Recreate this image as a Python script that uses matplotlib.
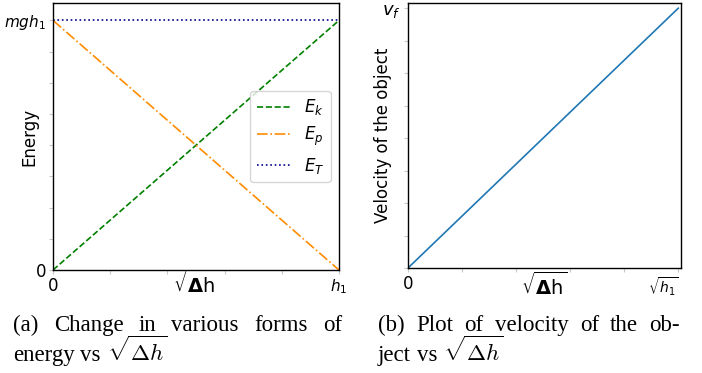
import numpy as np
import matplotlib.pyplot as plt
from matplotlib.ticker import FixedLocator, FixedFormatter

# normalised sqrt(dh) axis and energies (fractions of mgh1)
x_pts = [0.0, 1.0]
ek = [0.0, 1.0]
ep = [1.0, 0.0]
et = [1.0, 1.0]
vel = [0.0, 1.0]

x_ticks = [0.0, 0.2, 0.4, 0.6, 0.8, 1.0]
y_ticks = [i / 8 for i in range(9)]

fig = plt.figure(figsize=(7.02, 3.73), dpi=100)
ax1 = fig.add_axes([0.0755, 0.2761, 0.4074, 0.716])
ax2 = fig.add_axes([0.5812, 0.2815, 0.3889, 0.7105])

tick_kw = dict(direction='out', length=3, width=0.8, color='#c8c8c8',
               labelcolor='black', labelsize=12, pad=2)
xlab = r'$\sqrt{\mathbf{\Delta}\mathrm{h}}$'

# (a) energy
ax1.plot(x_pts, ek, '--', color='green', lw=1.2, label='$E_k$')
ax1.plot(x_pts, ep, '-.', color='darkorange', lw=1.2, label='$E_p$')
ax1.plot(x_pts, et, ':', color='darkblue', lw=1.2, label='$E_T$')
ax1.set_xlim(0, 1)
ax1.set_ylim(0, 1.07)
ax1.xaxis.set_major_locator(FixedLocator(x_ticks))
ax1.xaxis.set_major_formatter(FixedFormatter(['0', '', '', '', '', '$h_1$']))
ax1.yaxis.set_major_locator(FixedLocator(y_ticks))
ax1.yaxis.set_major_formatter(FixedFormatter(['0'] + [''] * 7 + ['$mgh_1$']))
ax1.tick_params(**tick_kw)
ax1.get_xticklabels()[-1].set_fontsize(11)
ax1.get_yticklabels()[-1].set_fontsize(11)
ax1.set_ylabel('Energy', fontsize=12)
ax1.yaxis.set_label_coords(-0.052, 0.5)
ax1.set_xlabel(xlab, fontsize=14, labelpad=-19)
ax1.legend(loc='center right', bbox_to_anchor=(1.0, 0.5), fontsize=12,
           handlelength=2.0, labelspacing=0.45, borderpad=0.4,
           handletextpad=0.8)

# (b) velocity
ax2.plot(x_pts, vel, '-', color='#1f77b4', lw=1.2)
ax2.set_xlim(0, 1.01)
ax2.set_ylim(0, 1.02)
ax2.xaxis.set_major_locator(FixedLocator(x_ticks))
ax2.xaxis.set_major_formatter(FixedFormatter(['0', '', '', '', '', r'$\sqrt{h_1}$']))
ax2.yaxis.set_major_locator(FixedLocator(y_ticks))
ax2.yaxis.set_major_formatter(FixedFormatter([''] * 8 + ['$v_f$']))
ax2.tick_params(**tick_kw)
ax2.get_xticklabels()[-1].set_fontsize(10)
ax2.get_xticklabels()[-1].set_horizontalalignment('right')
ax2.get_yticklabels()[-1].set_fontsize(13)
ax2.set_ylabel('Velocity of the object', fontsize=12)
ax2.yaxis.set_label_coords(-0.059, 0.5)
ax2.set_xlabel(xlab, fontsize=14, labelpad=-19)

for ax in (ax1, ax2):
    for s in ax.spines.values():
        s.set_linewidth(1.0)

# captions (justified first line)
cap_kw = dict(fontsize=16.5, family='Liberation Serif', va='baseline',
              math_fontfamily='cm')
W, H = 702, 373


def place(words, x0, ybase, x1=None):
    fig.canvas.draw()
    r = fig.canvas.get_renderer()
    texts = [fig.text(0, 1 - ybase / H, w, **cap_kw) for w in words]
    widths = [t.get_window_extent(r).width for t in texts]
    if x1 is None:
        gap = fig.text(0, 0, 'a a', **cap_kw).get_window_extent(r).width \
            - 2 * fig.text(0, 0, 'a', **cap_kw).get_window_extent(r).width
        for t in fig.texts[-2:]:
            t.remove()
    else:
        gap = (x1 - x0 - sum(widths)) / (len(words) - 1)
    x = x0
    for t, w in zip(texts, widths):
        t.set_x(x / W)
        x += w + gap


place('(a) Change in various forms of'.split(), 13, 331, 342)
place(['energy', 'vs', r'$\sqrt{\Delta h}$'], 13, 361)
place('(b) Plot of velocity of the ob-'.split(), 378, 331, 680)
place(['ject', 'vs', r'$\sqrt{\Delta h}$'], 378, 361)

fig.savefig('out.png', dpi=100)
